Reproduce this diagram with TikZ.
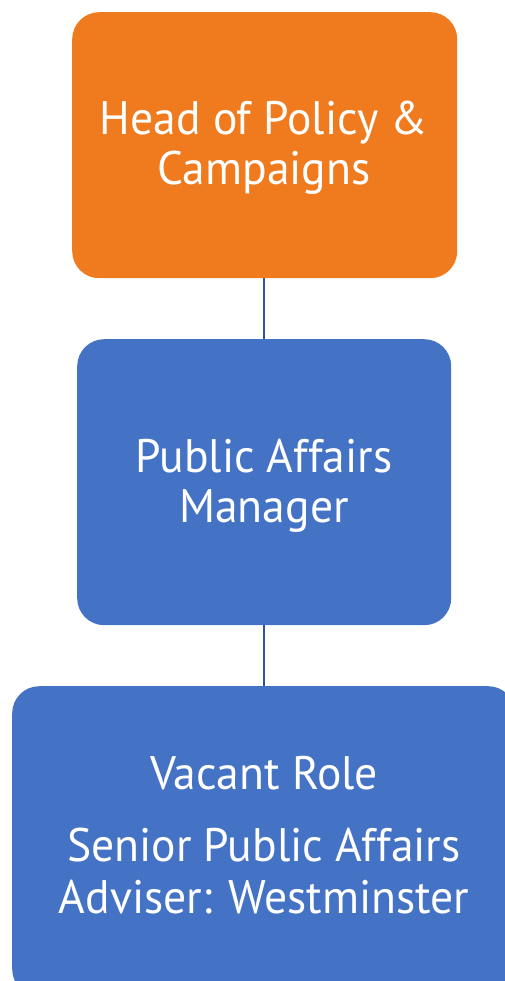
\documentclass[tikz,border=0pt]{standalone}
\usepackage{fontspec}
\setmainfont[FakeStretch=0.97]{PT Sans}
\definecolor{orng}{HTML}{EF7B1E}
\definecolor{blu}{HTML}{4472C4}
\definecolor{conn}{HTML}{2F5597}
\begin{document}
\begin{tikzpicture}[x=1pt,y=-1pt,
  box/.style={rectangle, rounded corners=27pt, inner sep=0pt, anchor=north west},
  lbl/.style={anchor=base, text=white, inner sep=0pt, font=\fontsize{47}{52}\selectfont},
  link/.style={draw=conn, line width=2pt}]
\useasboundingbox (0,0) rectangle (505,981);
\clip (0,0) rectangle (505,981);
\node[box, fill=orng, minimum width=385pt, minimum height=266pt] (head) at (72,12) {};
\node[box, fill=blu, minimum width=374pt, minimum height=286pt] (pam) at (77,339) {};
\node[box, fill=blu, minimum width=503pt, minimum height=310pt] (vac) at (12,686) {};
\draw[link] (pam.north |- head.south) -- (pam.north);
\draw[link] (pam.south) -- (pam.south |- vac.north);
\node[lbl] (h1) at (264,135) {Head of Policy \&};
\node[lbl] (h2) at (264,185) {Campaigns};
\node[lbl] (p1) at (264,472) {Public Affairs};
\node[lbl] (p2) at (264,522) {Manager};
\node[lbl] (v1) at (264,789) {Vacant Role};
\node[lbl] (v2) at (264,861) {Senior Public Affairs};
\node[lbl] (v3) at (264,913) {Adviser: Westminster};
\end{tikzpicture}
\end{document}
